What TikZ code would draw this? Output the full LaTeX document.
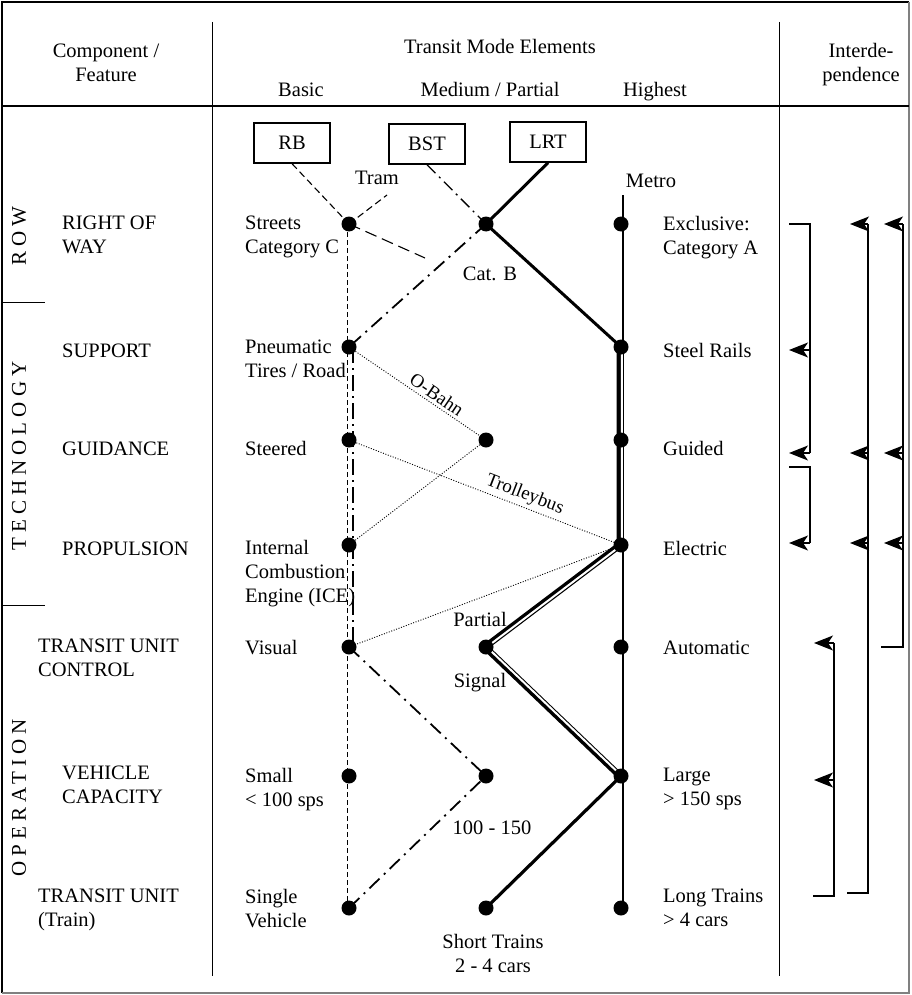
\documentclass[tikz,border=0pt]{standalone}
\usepackage{fontspec}
\setmainfont{Liberation Serif}
\usetikzlibrary{arrows.meta}
\pgfdeclarelayer{bg}
\pgfsetlayers{bg,main}
\begin{document}
\begin{tikzpicture}[x=1pt,y=-1pt,
  every node/.style={font=\fontsize{20.5}{24}\selectfont, inner sep=0pt},
  dot/.style={circle, fill=black, inner sep=0pt, minimum size=15pt},
  ml/.style={anchor=north west, align=left},
  sl/.style={anchor=base west},
  ctr/.style={anchor=base},
  modebox/.style={draw, line width=1.4pt, minimum width=76pt, minimum height=40pt},
  rbline/.style={line width=1.1pt, dash pattern=on 7pt off 4pt},
  rbvert/.style={line width=0.9pt, dash pattern=on 5pt off 3pt},
  bstline/.style={line width=1.8pt, dash pattern=on 14pt off 6pt on 2pt off 6pt},
  bstthin/.style={line width=1.3pt, dash pattern=on 12pt off 5pt on 2pt off 5pt},
  bstvert/.style={line width=2.6pt, dash pattern=on 16pt off 5pt on 2pt off 5pt},
  lrtline/.style={line width=3pt},
  dotline/.style={line width=0.9pt, dash pattern=on 1pt off 1.6pt},
  metroline/.style={line width=1.1pt},
  idep/.style={line width=1.2pt},
  arr/.style={line width=1.2pt, -{Stealth[length=19pt 0, width=15pt 0, inset=5pt 0]}},
  rot/.style={rotate=90, font=\fontsize{21}{24}\selectfont\addfontfeature{LetterSpace=24}}
]
\useasboundingbox (0,0) rectangle (911,995);

% frame
\draw[line width=1.3pt] (2,993) -- (2,2) -- (909,2);
\draw[line width=1.3pt, gray] (2,993) -- (909,993) -- (909,2);
\draw[line width=1.3pt] (2,106) -- (909,106);
\draw[line width=1pt] (212,22) -- (212,976);
\draw[line width=1pt] (779,22) -- (779,976);
\draw[line width=1pt] (2,302) -- (45,302);
\draw[line width=1pt] (2,605) -- (45,605);

% header
\node[align=center] (hcomp) at (106,63) {Component /\\Feature};
\node[ctr] (htme) at (500,54) {Transit Mode Elements};
\node[ctr] (hbasic) at (301,97) {Basic};
\node[ctr] (hmed) at (490,97) {Medium / Partial};
\node[ctr] (hhigh) at (655,97) {Highest};
\node[align=center] (hinter) at (861,65) {Interde-\\pendence};

% rotated group labels
\node[rot] (grow) at (19,236) {ROW};
\node[rot] (gtech) at (19,456) {TECHNOLOGY};
\node[rot] (gop) at (19,798) {OPERATION};

% component labels
\node[ml] (crow) at (62,216) {RIGHT OF\\WAY};
\node[sl] (csup) at (62,357) {SUPPORT};
\node[sl] (cgui) at (62,455) {GUIDANCE};
\node[sl] (cpro) at (62,555) {PROPULSION};
\node[ml] (cctl) at (38,639) {TRANSIT UNIT\\CONTROL};
\node[ml] (ccap) at (62,766) {VEHICLE\\CAPACITY};
\node[ml] (ctrn) at (38,889) {TRANSIT UNIT\\(Train)};

% basic texts
\node[ml] (brow) at (245,216) {Streets\\Category C};
\node[ml] (bsup) at (245,340) {Pneumatic\\Tires / Road};
\node[sl] (bgui) at (245,455) {Steered};
\node[ml] (bpro) at (245,540) {Internal\\Combustion\\Engine (ICE)};
\node[sl] (bctl) at (245,654) {Visual};
\node[ml] (bcap) at (245,768) {Small\\< 100 sps};
\node[ml] (btrn) at (245,889) {Single\\Vehicle};

% highest texts
\node[ml] (hrow) at (663,216) {Exclusive:\\Category A};
\node[sl] (hsup) at (663,357) {Steel Rails};
\node[sl] (hgui) at (663,455) {Guided};
\node[sl] (hpro) at (663,555) {Electric};
\node[sl] (hctl) at (663,654) {Automatic};
\node[ml] (hcap) at (663,768) {Large\\> 150 sps};
\node[ml] (htrn) at (663,889) {Long Trains\\> 4 cars};

% mode boxes
\node[modebox] (rb) at (292,143) {RB};
\node[modebox] (bst) at (427,144) {BST};
\node[modebox] (lrt) at (548,142) {LRT};

% dots
\node[dot] (rowb) at (349,224) {};
\node[dot] (rowm) at (486,224) {};
\node[dot] (rowh) at (621,224) {};
\node[dot] (supb) at (349,347) {};
\node[dot] (suph) at (621,347) {};
\node[dot] (guib) at (349,440) {};
\node[dot] (guim) at (486,440) {};
\node[dot] (guih) at (621,440) {};
\node[dot] (prob) at (349,545) {};
\node[dot] (proh) at (621,545) {};
\node[dot] (ctlb) at (349,647) {};
\node[dot] (ctlm) at (486,647) {};
\node[dot] (ctlh) at (621,647) {};
\node[dot] (capb) at (349,776) {};
\node[dot] (capm) at (486,776) {};
\node[dot] (caph) at (621,776) {};
\node[dot] (trnb) at (349,908) {};
\node[dot] (trnm) at (486,908) {};
\node[dot] (trnh) at (621,908) {};

% free ends
\coordinate (tramend) at (387,195);
\coordinate (catbend) at (425,258);
\coordinate (metrotop) at (623,195);

% small labels
\node[ctr] (ltram) at (377,185) {Tram};
\node[ctr] (lmetro) at (651,187) {Metro};
\node[ctr] (lcatb) at (490,280) {Cat. B};
\node[ctr] (lpartial) at (480,626) {Partial};
\node[ctr] (lsignal) at (480,687) {Signal};
\node[ctr] (l100) at (492,834) {100 - 150};
\node[align=center] (lshort) at (493,953) {Short Trains\\2 - 4 cars};

\begin{pgfonlayer}{bg}
% metro
\draw[metroline] (metrotop) -- ([xshift=2pt]trnh.center);
% RB
\draw[rbline] (rb.south) -- (rowb.center);
\draw[rbline] (rowb.center) -- (tramend);
\draw[line width=1.1pt, dash pattern=on 12pt off 6pt] (rowb.center) -- (catbend);
\draw[rbvert] ([xshift=-2pt]rowb.center) -- ([xshift=-2pt]trnb.center);
% BST
\draw[bstthin] (bst.south) -- (rowm.center);
\draw[bstline] (rowm.center) -- (supb.center);
\draw[bstvert] ([xshift=4pt]supb.center) -- ([xshift=4pt]ctlb.center);
\draw[bstline] (ctlb.center) -- (capm.center) -- (trnb.center);
% LRT
\draw[lrtline] (lrt.south) -- (rowm.center) -- (suph.center);
\draw[line width=6.6pt, line join=round] ([xshift=-1pt]suph.center) -- ([xshift=-1pt]proh.center) -- ([xshift=-1pt]ctlm.center) -- ([xshift=-1pt]caph.center);
\draw[white, line width=2pt, line join=round] ([xshift=0.8pt]suph.center) -- ([xshift=0.8pt]proh.center) -- ([xshift=0.8pt]ctlm.center) -- ([xshift=0.8pt]caph.center);
\draw[lrtline, line width=3.2pt] (caph.center) -- (trnm.center);
% dotted
\draw[dotline] (supb.center) -- node[pos=0.6, above=3pt, sloped, font=\fontsize{19}{20}\selectfont] (lobahn) {O-Bahn} (guim.center);
\draw[dotline] (guim.center) -- (prob.center);
\draw[dotline] (guib.center) -- node[pos=0.63, above=3pt, sloped, font=\fontsize{19}{20}\selectfont] (ltrolley) {Trolleybus} (proh.center);
\draw[dotline] (proh.center) -- (ctlb.center);
\end{pgfonlayer}

% interdependence
\draw[idep] (789,224) -- (810,224) -- (810,453);
\draw[arr] (810,350) -- (789,350);
\draw[arr] (810,453) -- (789,453);
\draw[idep] (789,467) -- (810,467) -- (810,543);
\draw[arr] (810,543) -- (789,543);

\draw[idep] (847,893) -- (868,893) -- (868,224);
\draw[arr] (868,224) -- (850,224);
\draw[arr] (868,453) -- (850,453);
\draw[arr] (868,543) -- (850,543);

\draw[idep] (881,647) -- (903,647) -- (903,224);
\draw[arr] (903,224) -- (884,224);
\draw[arr] (903,453) -- (884,453);
\draw[arr] (903,543) -- (884,543);

\draw[idep] (813,896) -- (834,896) -- (834,643);
\draw[arr] (834,643) -- (814,643);
\draw[arr] (834,780) -- (814,780);
\end{tikzpicture}
\end{document}
